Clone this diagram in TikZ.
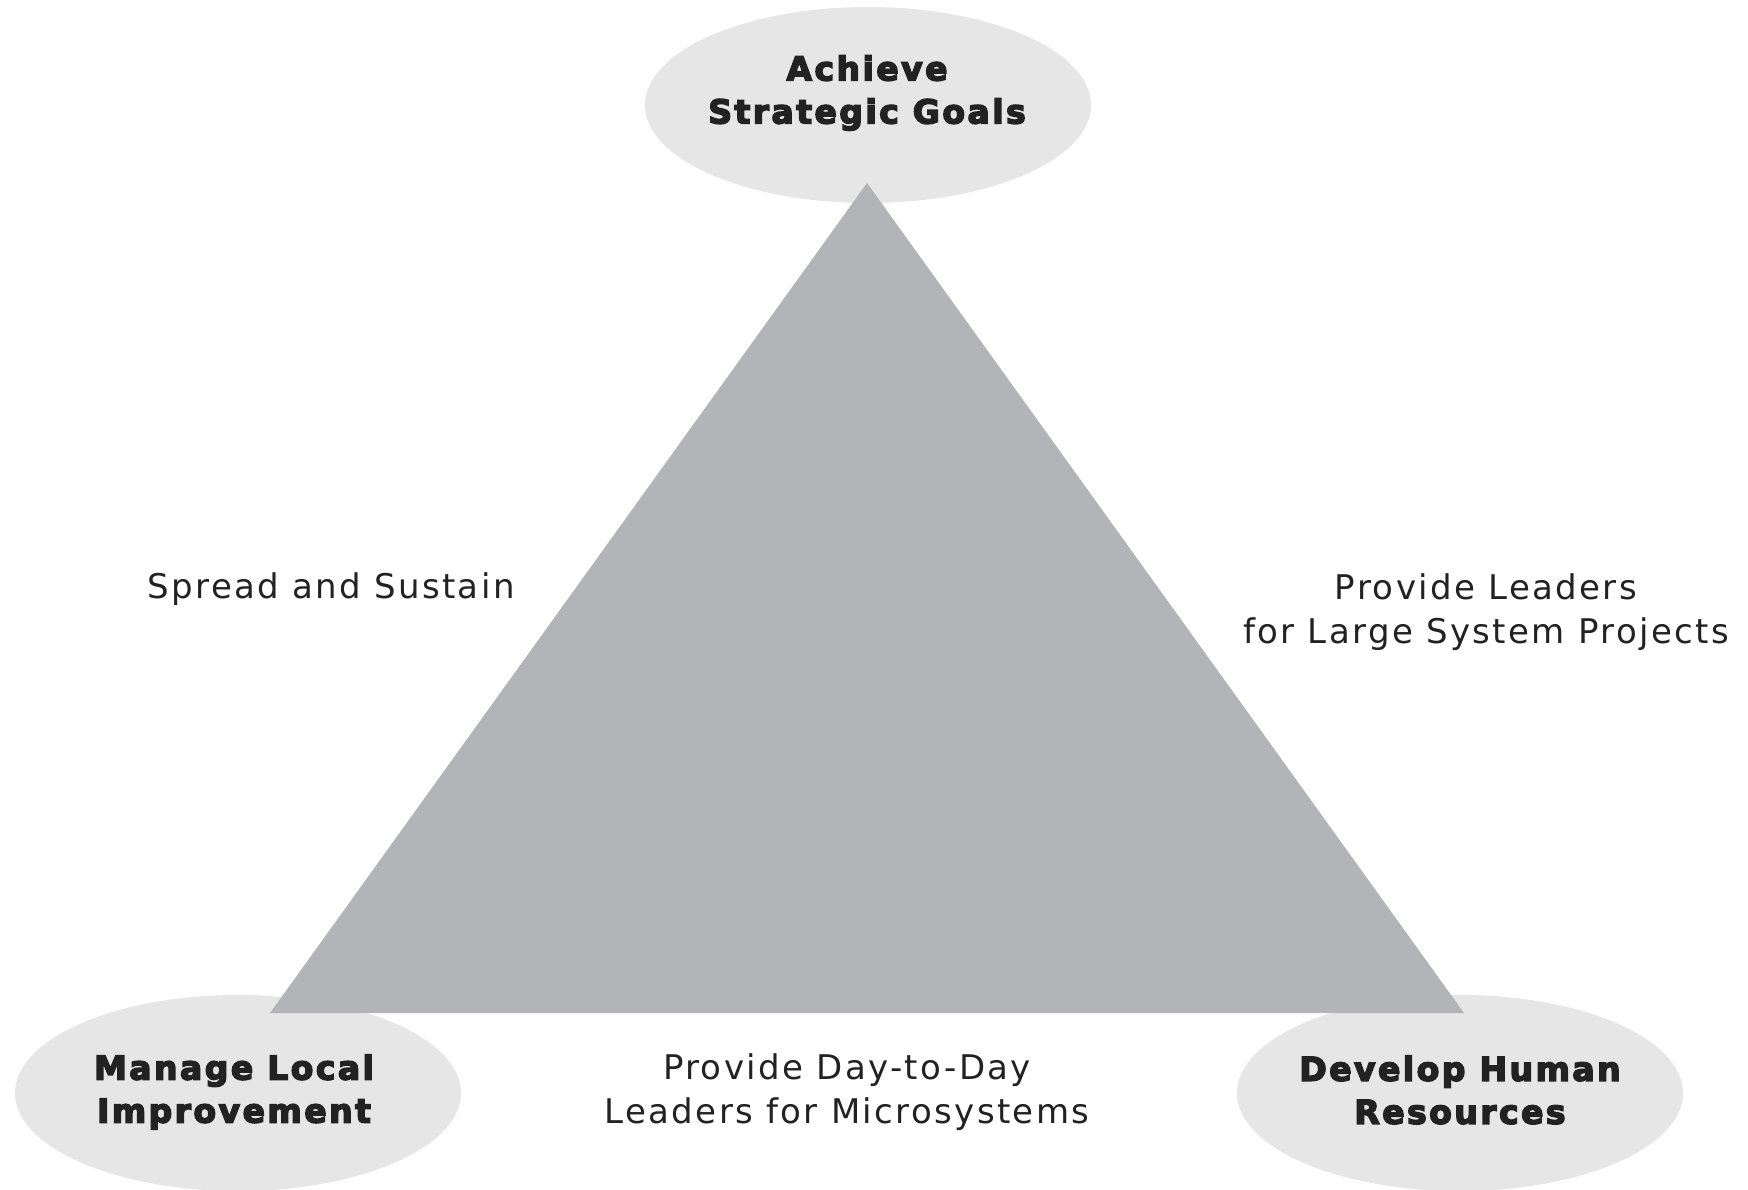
\documentclass[tikz,border=0pt]{standalone}
\usepackage{fontspec}
\usetikzlibrary{shapes.geometric}
\newfontfamily\lblfont{DejaVu Sans}[LetterSpace=7]
\newfontfamily\headfont{DejaVu Sans}[BoldFeatures={FakeBold=4.5,LetterSpace=7.5}]
\definecolor{trigray}{HTML}{B3B4B8}
\definecolor{ovalgray}{HTML}{E6E6E6}
\definecolor{inkc}{HTML}{222222}
\tikzset{
  oval/.style={ellipse, fill=ovalgray, draw=none, minimum width=446pt, minimum height=196pt, inner sep=0pt},
  headtext/.style={align=center, text=inkc, font=\headfont\bfseries\fontsize{33}{43}\selectfont, inner sep=0pt},
  lbltext/.style={align=center, text=inkc, font=\lblfont\fontsize{34}{44}\selectfont, inner sep=0pt}
}
\begin{document}
\begin{tikzpicture}[x=1pt,y=-1pt]
\useasboundingbox (0,0) rectangle (1748,1190);
\fill[white] (0,0) rectangle (1748,1190);
% ovals
\node[oval] (top) at (868,105) {};
\node[oval] (bl) at (238,1093) {};
\node[oval] (br) at (1460,1093) {};
% triangle
\coordinate (apex) at (867,183);
\coordinate (tl) at (270,1013);
\coordinate (tr) at (1464,1013);
\fill[trigray] (apex) -- (tl) -- (tr) -- cycle;
% oval texts
\node[headtext] (toptxt) at (867,93) {Achieve\\Strategic Goals};
\node[headtext] (bltxt) at (234,1092) {Manage Local\\Improvement};
\node[headtext] (brtxt) at (1460,1090) {Develop Human\\Resources};
% edge labels
\node[lbltext] (left) at (331,589) {Spread and Sustain};
\node[lbltext] (right) at (1486,612) {Provide Leaders\\for Large System Projects};
\node[lbltext] (bottom) at (847,1092) {Provide Day-to-Day\\Leaders for Microsystems};
\end{tikzpicture}
\end{document}
